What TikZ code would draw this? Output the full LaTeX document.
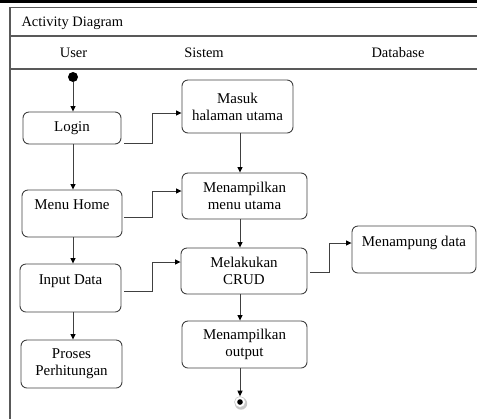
\documentclass[tikz,border=0pt]{standalone}
\usepackage{fontspec}
\setmainfont{Liberation Serif}
\usetikzlibrary{arrows.meta,calc}

\begin{document}
\begin{tikzpicture}[x=1bp,y=-1bp,
		act/.style={draw=black!75,line width=0.9bp,rounded corners=6bp,align=center,inner sep=0pt,font=\fontsize{15}{17}\selectfont},
		flow/.style={draw=black!75,line width=0.9bp,-{Triangle[length=5.5bp,width=5bp,black]}},
		lane/.style={draw=black!65,line width=1.2bp},
		head/.style={anchor=base,font=\fontsize{14.5}{17}\selectfont}]
		\useasboundingbox (0,0) rectangle (477,419);
		\fill (0,0) rectangle (477,2.5);
		\draw[lane] (477,7.5) -- (10,7.5) -- (10,419);
		\draw[lane] (10,36) -- (477,36);
		\draw[lane] (10,69) -- (477,69);
		\node[head,anchor=base west] (judul) at (18,26.5) {Activity Diagram};
		\node[head] (user) at (73.5,57) {User};
		\node[head] (sistem) at (204,57) {Sistem};
		\node[head] (database) at (398,57) {Database};
		\node[circle,fill,minimum size=10bp,inner sep=0pt] (mulai) at (73,77) {};
		\node[act,minimum width=98bp,minimum height=32bp] (login) at (72,128) {Login};
		\node[act,minimum width=100bp,minimum height=47bp] (home) at (72,213.5) {Menu Home\\~};
		\node[act,minimum width=101bp,minimum height=48bp] (input) at (70.5,288) {Input Data\\~};
		\node[act,minimum width=101bp,minimum height=48bp] (proses) at (71.5,364) {Proses\\Perhitungan};
		\node[act,minimum width=111bp,minimum height=53bp] (masuk) at (237.5,106.5) {Masuk\\halaman utama};
		\node[act,minimum width=125bp,minimum height=46bp] (menu) at (244.5,196) {Menampilkan\\menu utama};
		\node[act,minimum width=126bp,minimum height=46bp] (crud) at (244,271) {Melakukan\\CRUD};
		\node[act,minimum width=125bp,minimum height=47bp] (output) at (244.5,344.5) {Menampilkan\\output};
		\node[act,minimum width=124bp,minimum height=47bp] (tampung) at (414,249.5) {Menampung data\\~};
		\fill[black!22] (241,403.5) circle (6.2);
		\node[circle,fill=white,draw=black!20,line width=0.6bp,minimum size=11bp,inner sep=0pt] (fin) at (240,402) {};
		\fill (fin) circle (2.8);
		\draw[flow] (mulai.south) -- (mulai.south |- login.north);
		\draw[flow] (login.south -| mulai) -- (home.north -| mulai);
		\draw[flow] (home.south -| mulai) -- (input.north -| mulai);
		\draw[flow] (input.south -| mulai) -- (proses.north -| mulai);
		\draw[flow] (masuk.south -| fin) -- (menu.north -| fin);
		\draw[flow] (menu.south -| fin) -- (crud.north -| fin);
		\draw[flow] (crud.south -| fin) -- (output.north -| fin);
		\draw[flow] (output.south -| fin) -- (fin.north);
		\draw[flow] ($(login.south east)+(3,-1)$) -- ++(28,0) |- ($(masuk.west)+(0,6.5)$);
		\draw[flow] ($(home.east)+(2,3.5)$) -- ++(28,0) |- ($(menu.west)+(0,-5)$);
		\draw[flow] ($(input.east)+(3,3)$) -- ++(28,0) |- ($(crud.west)+(0,-9)$);
		\draw[flow] ($(crud.east)+(3,1)$) -- ++(19,0) |- ($(tampung.west)+(0,-6.5)$);
	\end{tikzpicture}
\end{document}
